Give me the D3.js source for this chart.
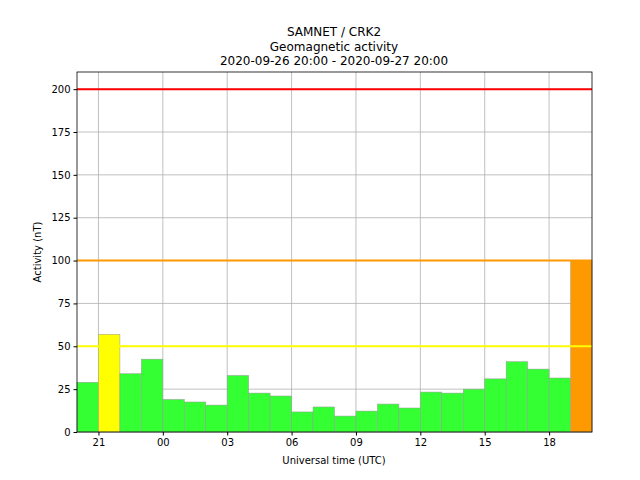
<!DOCTYPE html><html><head><script src="https://d3js.org/d3.v7.min.js"></script>
<style>body{margin:0;background:#fff}text{font-family:"DejaVu Sans",sans-serif}</style></head><body>
<svg id="c" width="640" height="480"></svg>
<script>
const hours=[20,21,22,23,24,25,26,27,28,29,30,31,32,33,34,35,36,37,38,39,40,41,42,43];
const values=[29,57,34,42.5,19,17.5,15.7,33,22.7,21,11.7,14.6,9.3,12.2,16.3,14,23.3,22.7,25,31,41,36.7,31.5,100];
const thresholds=[{v:50,c:"#ffff00"},{v:100,c:"#ff9900"},{v:200,c:"#ff0000"}];
const xTicks=[21,24,27,30,33,36,39,42];
const yTicks=[0,25,50,75,100,125,150,175,200];
const svg=d3.select("#c");
const L=77,R=592,T=72,B=432;
const x=d3.scaleLinear().domain([20,44]).range([L,R]);
const y=d3.scaleLinear().domain([0,210]).range([B,T]);
const col=v=>v>=100?"#ff9900":v>=50?"#ffff00":"#33ff33";
const g=svg.append("g");
xTicks.forEach(t=>g.append("line").attr("x1",x(t)).attr("x2",x(t)).attr("y1",T).attr("y2",B).attr("stroke","#b0b0b0").attr("stroke-width",0.8));
yTicks.forEach(t=>g.append("line").attr("x1",L).attr("x2",R).attr("y1",y(t)).attr("y2",y(t)).attr("stroke","#b0b0b0").attr("stroke-width",0.8));
svg.selectAll("rect.b").data(values).enter().append("rect").attr("x",(d,i)=>x(hours[i])).attr("width",x(21)-x(20))
 .attr("y",d=>y(d)).attr("height",d=>B-y(d)).attr("fill",col).attr("stroke","#999").attr("stroke-width",0.5);
thresholds.forEach(t=>svg.append("line").attr("x1",L).attr("x2",R).attr("y1",y(t.v)).attr("y2",y(t.v)).attr("stroke",t.c).attr("stroke-width",2));
svg.append("rect").attr("x",L).attr("y",T).attr("width",R-L).attr("height",B-T).attr("fill","none").attr("stroke","#000").attr("stroke-width",0.8);
svg.append("g").attr("transform",`translate(0,${B})`).call(d3.axisBottom(x).tickValues(xTicks).tickSize(3.5).tickFormat(d=>String(d%24).padStart(2,"0"))).call(a=>{a.select(".domain").remove();a.selectAll("text").attr("font-size",10).attr("fill","#000");});
svg.append("g").attr("transform",`translate(${L},0)`).call(d3.axisLeft(y).tickValues(yTicks).tickSize(3.5)).call(a=>{a.select(".domain").remove();a.selectAll("text").attr("font-size",10).attr("fill","#000");});
svg.append("text").attr("x",334).attr("y",464).attr("text-anchor","middle").attr("font-size",10).text("Universal time (UTC)");
svg.append("text").attr("transform","translate(41,252) rotate(-90)").attr("text-anchor","middle").attr("font-size",10).text("Activity (nT)");
["SAMNET / CRK2","Geomagnetic activity","2020-09-26 20:00 - 2020-09-27 20:00"].forEach((s,i)=>svg.append("text").attr("x",334).attr("y",36+i*14.5).attr("text-anchor","middle").attr("font-size",12).text(s));
</script></body></html>
